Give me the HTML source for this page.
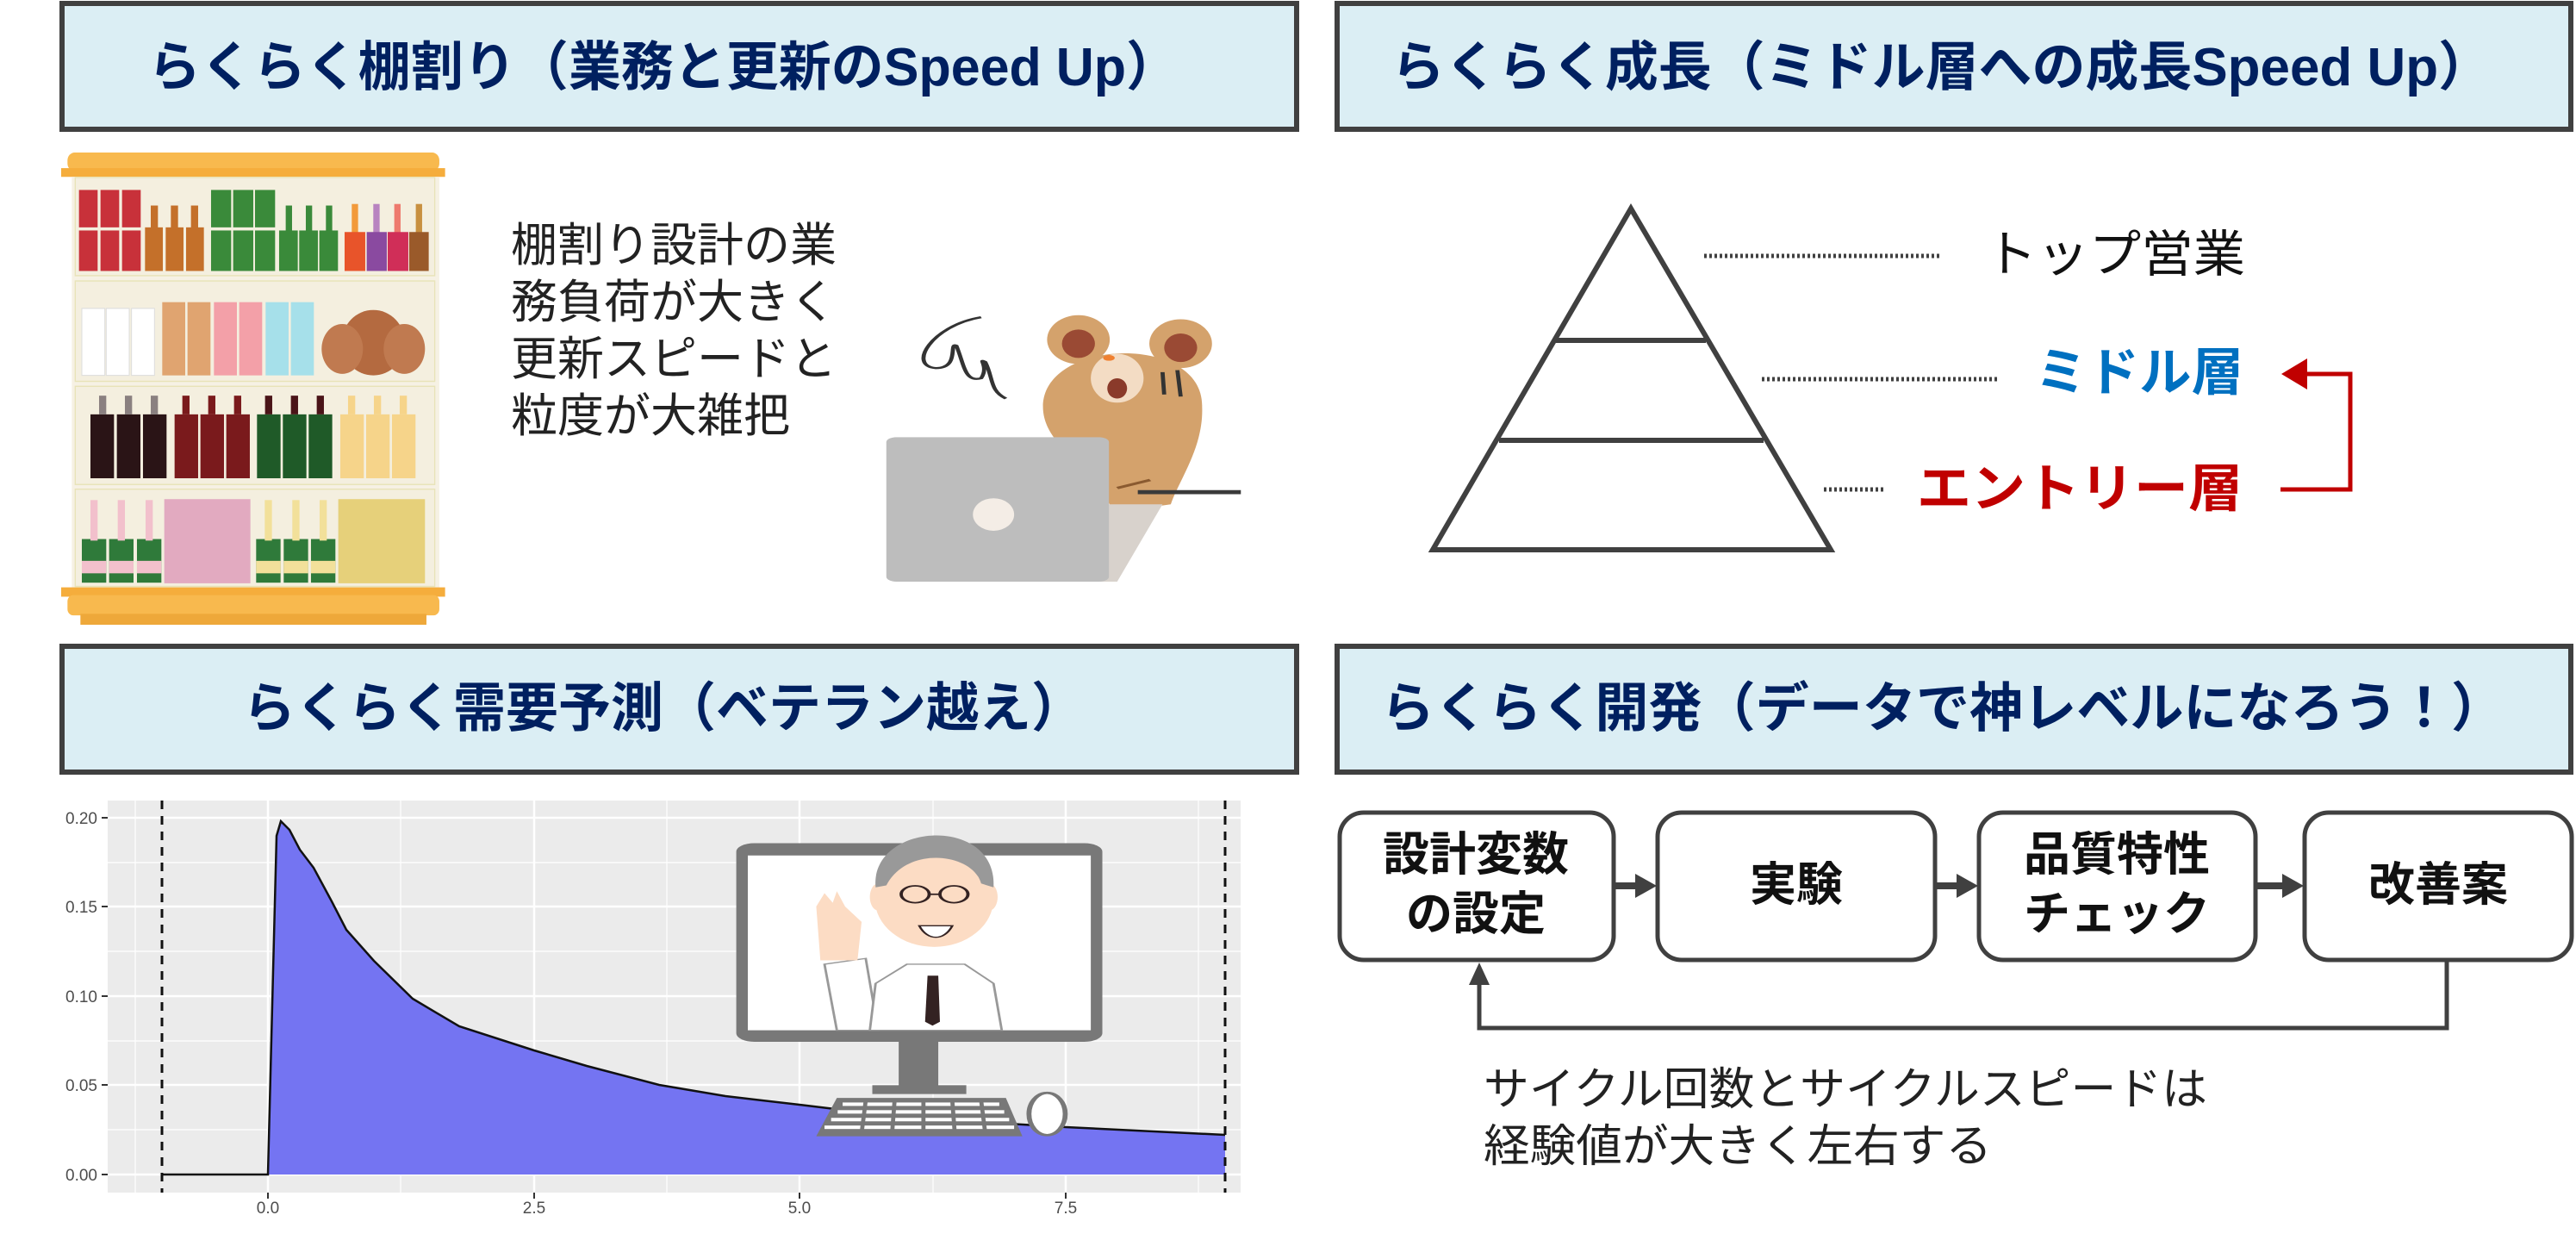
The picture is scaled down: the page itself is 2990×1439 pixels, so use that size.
<!DOCTYPE html>
<html><head><meta charset="utf-8"><style>
html,body{margin:0;padding:0;background:#fff;}
svg{display:block;}
text{font-family:"Liberation Sans","Noto Sans CJK JP",sans-serif;}
</style></head><body>
<svg width="2990" height="1439" viewBox="0 0 2990 1439" xmlns="http://www.w3.org/2000/svg">
<rect width="2990" height="1439" fill="#fff"/>

<g fill="#dbeef4" stroke="#404040" stroke-width="6">
<rect x="72" y="4" width="1433" height="146"/>
<rect x="1552" y="4" width="1432" height="146"/>
<rect x="72" y="750" width="1433" height="146"/>
<rect x="1552" y="750" width="1432" height="146"/>
</g>
<g font-weight="bold" fill="#002060" font-size="62">
<text x="172" y="99" textLength="1196" lengthAdjust="spacingAndGlyphs">らくらく棚割り（業務と更新のSpeed Up）</text>
<text x="1615" y="99" textLength="1277" lengthAdjust="spacingAndGlyphs">らくらく成長（ミドル層への成長Speed Up）</text>
<text x="282" y="843" textLength="976" lengthAdjust="spacingAndGlyphs">らくらく需要予測（ベテラン越え）</text>
<text x="1603" y="843" textLength="1304" lengthAdjust="spacingAndGlyphs">らくらく開発（データで神レベルになろう！）</text>
</g>

<g transform="translate(60,169.8) scale(0.3333,0.3617)">
<rect x="55" y="20" width="1295" height="60" rx="25" fill="#f8b94e"/>
<rect x="33" y="70" width="1337" height="28" fill="#f5ad3c"/>
<rect x="70" y="98" width="1280" height="1320" fill="#f6f1e4"/>
<rect x="82" y="100" width="1252" height="315" fill="#f4efdf" stroke="#e8e3b8" stroke-width="4"/>
<rect x="82" y="432" width="1252" height="322" fill="#f4efdf" stroke="#e8e3b8" stroke-width="4"/>
<rect x="82" y="770" width="1252" height="315" fill="#f4efdf" stroke="#e8e3b8" stroke-width="4"/>
<rect x="82" y="1100" width="1252" height="312" fill="#f4efdf" stroke="#e8e3b8" stroke-width="4"/>
<g fill="#c8313a"><rect x="95" y="140" width="65" height="120"/><rect x="170" y="140" width="65" height="120"/><rect x="245" y="140" width="65" height="120"/>
<rect x="95" y="270" width="65" height="130"/><rect x="170" y="270" width="65" height="130"/><rect x="245" y="270" width="65" height="130"/></g>
<g fill="#c4702a"><rect x="345" y="190" width="25" height="80"/><rect x="415" y="190" width="25" height="80"/><rect x="485" y="190" width="25" height="80"/>
<rect x="325" y="260" width="62" height="140"/><rect x="397" y="260" width="62" height="140"/><rect x="468" y="260" width="62" height="140"/></g>
<g fill="#3a8a3a"><rect x="555" y="140" width="70" height="120"/><rect x="632" y="140" width="70" height="120"/><rect x="708" y="140" width="70" height="120"/>
<rect x="555" y="270" width="70" height="130"/><rect x="632" y="270" width="70" height="130"/><rect x="708" y="270" width="70" height="130"/>
<rect x="815" y="190" width="22" height="90"/><rect x="885" y="190" width="22" height="90"/><rect x="955" y="190" width="22" height="90"/>
<rect x="792" y="270" width="65" height="130"/><rect x="862" y="270" width="65" height="130"/><rect x="932" y="270" width="65" height="130"/></g>
<rect x="1045" y="185" width="22" height="100" fill="#f29a3a"/><rect x="1020" y="275" width="72" height="125" fill="#e8542a"/>
<rect x="1120" y="185" width="22" height="100" fill="#b883c0"/><rect x="1097" y="275" width="70" height="125" fill="#8a4aa0"/>
<rect x="1193" y="185" width="22" height="100" fill="#ee7a6e"/><rect x="1170" y="275" width="72" height="125" fill="#d02e58"/>
<rect x="1268" y="185" width="22" height="100" fill="#c89040"/><rect x="1245" y="275" width="68" height="125" fill="#9a5a2a"/>
<g fill="#fff" stroke="#ddd" stroke-width="3"><rect x="105" y="520" width="80" height="215"/><rect x="190" y="520" width="80" height="215"/><rect x="278" y="520" width="80" height="215"/></g>
<rect x="385" y="500" width="80" height="235" fill="#e0a470"/><rect x="473" y="500" width="80" height="235" fill="#e0a470"/>
<rect x="565" y="500" width="80" height="235" fill="#f3a0a8"/><rect x="653" y="500" width="80" height="235" fill="#f3a0a8"/>
<rect x="745" y="500" width="80" height="235" fill="#a6e0ea"/><rect x="833" y="500" width="80" height="235" fill="#a6e0ea"/>
<ellipse cx="1120" cy="630" rx="110" ry="105" fill="#b46a40"/>
<ellipse cx="1012" cy="650" rx="72" ry="80" fill="#c07a50"/>
<ellipse cx="1228" cy="650" rx="72" ry="80" fill="#c07a50"/>
<g fill="#2a1416"><rect x="135" y="860" width="82" height="205"/><rect x="227" y="860" width="82" height="205"/><rect x="318" y="860" width="82" height="205"/></g>
<g fill="#8a8080"><rect x="165" y="800" width="25" height="60"/><rect x="255" y="800" width="25" height="60"/><rect x="345" y="800" width="25" height="60"/></g>
<g fill="#7a1a1c"><rect x="428" y="860" width="82" height="205"/><rect x="518" y="860" width="82" height="205"/><rect x="608" y="860" width="82" height="205"/>
<rect x="455" y="800" width="25" height="60"/><rect x="545" y="800" width="25" height="60"/><rect x="635" y="800" width="25" height="60"/></g>
<g fill="#1f5a28"><rect x="715" y="860" width="82" height="205"/><rect x="805" y="860" width="82" height="205"/><rect x="895" y="860" width="82" height="205"/></g>
<g fill="#4a1418"><rect x="743" y="800" width="25" height="60"/><rect x="833" y="800" width="25" height="60"/><rect x="923" y="800" width="25" height="60"/></g>
<g fill="#f6d48a"><rect x="1005" y="860" width="82" height="205"/><rect x="1095" y="860" width="82" height="205"/><rect x="1185" y="860" width="82" height="205"/>
<rect x="1032" y="800" width="25" height="60"/><rect x="1122" y="800" width="25" height="60"/><rect x="1212" y="800" width="25" height="60"/></g>
<g fill="#2f7a3a"><rect x="105" y="1260" width="85" height="140"/><rect x="200" y="1260" width="85" height="140"/><rect x="297" y="1260" width="85" height="140"/>
<rect x="712" y="1260" width="85" height="140"/><rect x="808" y="1260" width="85" height="140"/><rect x="903" y="1260" width="85" height="140"/></g>
<g fill="#f2c0cc"><rect x="135" y="1135" width="25" height="130"/><rect x="230" y="1135" width="25" height="130"/><rect x="327" y="1135" width="25" height="130"/>
<rect x="105" y="1330" width="85" height="40"/><rect x="200" y="1330" width="85" height="40"/><rect x="297" y="1330" width="85" height="40"/></g>
<g fill="#f2e09a"><rect x="742" y="1135" width="25" height="130"/><rect x="838" y="1135" width="25" height="130"/><rect x="933" y="1135" width="25" height="130"/>
<rect x="712" y="1330" width="85" height="40"/><rect x="808" y="1330" width="85" height="40"/><rect x="903" y="1330" width="85" height="40"/></g>
<rect x="392" y="1132" width="300" height="270" fill="#e2aac0"/>
<rect x="998" y="1132" width="302" height="270" fill="#e6d07a"/>
<rect x="33" y="1415" width="1337" height="30" fill="#f5ad3c"/>
<rect x="55" y="1440" width="1295" height="65" rx="20" fill="#f8b94e"/>
<rect x="100" y="1500" width="1205" height="35" fill="#eea83a"/>
</g>

<g font-size="54" fill="#222">
<text x="593" y="303" textLength="378" lengthAdjust="spacingAndGlyphs">棚割り設計の業</text>
<text x="593" y="369" textLength="378" lengthAdjust="spacingAndGlyphs">務負荷が大きく</text>
<text x="593" y="435" textLength="378" lengthAdjust="spacingAndGlyphs">更新スピードと</text>
<text x="593" y="501" textLength="324" lengthAdjust="spacingAndGlyphs">粒度が大雑把</text>
</g>

<g transform="scale(0.957,0.472)">
<path d="M1190,780 C1130,800 1100,900 1135,905 C1165,905 1150,840 1160,850 C1170,900 1170,940 1190,930 C1200,900 1185,880 1195,890 C1205,930 1200,960 1220,980" fill="none" stroke="#333" stroke-width="5"/>
<ellipse cx="1308" cy="835" rx="38" ry="60" fill="#d4a26c"/>
<ellipse cx="1308" cy="845" rx="20" ry="35" fill="#9a4a34"/>
<ellipse cx="1432" cy="845" rx="38" ry="60" fill="#d4a26c"/>
<ellipse cx="1432" cy="855" rx="20" ry="35" fill="#9a4a34"/>
<path d="M1265,1000 C1265,830 1460,820 1458,1000 C1460,1100 1430,1180 1420,1240 L1350,1260 C1330,1150 1265,1100 1265,1000Z" fill="#d4a26c"/>
<ellipse cx="1355" cy="930" rx="32" ry="60" fill="#f3dcc4"/>
<ellipse cx="1355" cy="955" rx="12" ry="25" fill="#8a3a2a"/>
<circle cx="1345" cy="880" r="7" fill="#f08030"/>
<path d="M1410,915 L1412,970 M1428,910 L1432,975" stroke="#333" stroke-width="5"/>
<path d="M1380,1210 L1505,1210" stroke="#3a3a3a" stroke-width="10"/>
<polygon points="1345,1240 1410,1240 1355,1430 1320,1430" fill="#d8d2cc"/>
<rect x="1075" y="1075" width="270" height="355" rx="12" fill="#bdbdbd"/>
<ellipse cx="1205" cy="1265" rx="25" ry="40" fill="#f4ede6"/>
<path d="M1355,1200 L1395,1180" stroke="#8a5a30" stroke-width="6"/>
</g>

<g stroke="#404040" stroke-width="6" fill="none">
<polygon points="1893,242 1663,638 2125,638"/>
<line x1="1806" y1="395" x2="1980" y2="395"/>
<line x1="1740" y1="511" x2="2047" y2="511"/>
</g>
<g stroke="#404040" stroke-width="5" stroke-dasharray="3,3">
<line x1="1978" y1="297" x2="2252" y2="297"/>
<line x1="2045" y1="440" x2="2318" y2="440"/>
<line x1="2117" y1="568" x2="2187" y2="568"/>
</g>
<text x="2304" y="315" font-size="58" fill="#111" textLength="302" lengthAdjust="spacingAndGlyphs">トップ営業</text>
<text x="2362" y="453" font-size="60" font-weight="bold" fill="#0070c0" textLength="242" lengthAdjust="spacingAndGlyphs">ミドル層</text>
<text x="2225" y="588" font-size="60" font-weight="bold" fill="#c00000" textLength="378" lengthAdjust="spacingAndGlyphs">エントリー層</text>
<path d="M2647,568 L2728,568 L2728,434 L2675,434" fill="none" stroke="#c00000" stroke-width="5"/>
<polygon points="2648,434 2678,416 2678,452" fill="#c00000"/>

<rect x="125" y="929" width="1315" height="455" fill="#ebebeb"/>
<g stroke="#fff" stroke-width="1.2">
<line x1="125" x2="1440" y1="1311" y2="1311"/><line x1="125" x2="1440" y1="1208" y2="1208"/><line x1="125" x2="1440" y1="1104" y2="1104"/><line x1="125" x2="1440" y1="1001" y2="1001"/>
<line y1="929" y2="1384" x1="157" x2="157"/><line y1="929" y2="1384" x1="465" x2="465"/><line y1="929" y2="1384" x1="774" x2="774"/><line y1="929" y2="1384" x1="1083" x2="1083"/><line y1="929" y2="1384" x1="1391" x2="1391"/>
</g>
<g stroke="#fff" stroke-width="2.5">
<line x1="125" x2="1440" y1="1363" y2="1363"/><line x1="125" x2="1440" y1="1259" y2="1259"/><line x1="125" x2="1440" y1="1156" y2="1156"/><line x1="125" x2="1440" y1="1052" y2="1052"/><line x1="125" x2="1440" y1="949" y2="949"/>
<line y1="929" y2="1384" x1="311" x2="311"/><line y1="929" y2="1384" x1="620" x2="620"/><line y1="929" y2="1384" x1="928" x2="928"/><line y1="929" y2="1384" x1="1237" x2="1237"/>
</g>
<path d="M311,1363 L321,970 L326,953 L336,963 L348,986 L364,1007 L385,1046 L402,1079 L434,1115 L479,1159 L533,1191 L620,1219 L681,1237 L765,1259 L842,1272 L928,1282 L1052,1297 L1237,1308 L1422,1317 L1422,1363 Z" fill="#7474f2"/>
<path d="M188,1363 L311,1363 L321,970 L326,953 L336,963 L348,986 L364,1007 L385,1046 L402,1079 L434,1115 L479,1159 L533,1191 L620,1219 L681,1237 L765,1259 L842,1272 L928,1282 L1052,1297 L1237,1308 L1422,1317" fill="none" stroke="#111" stroke-width="2.5"/>
<g stroke="#111" stroke-width="3" stroke-dasharray="10,8">
<line x1="188" y1="929" x2="188" y2="1384"/><line x1="1422" y1="929" x2="1422" y2="1384"/>
</g>
<g stroke="#333" stroke-width="2">
<line x1="118" x2="125" y1="1363" y2="1363"/><line x1="118" x2="125" y1="1259" y2="1259"/><line x1="118" x2="125" y1="1156" y2="1156"/><line x1="118" x2="125" y1="1052" y2="1052"/><line x1="118" x2="125" y1="949" y2="949"/>
<line y1="1384" y2="1391" x1="311" x2="311"/><line y1="1384" y2="1391" x1="620" x2="620"/><line y1="1384" y2="1391" x1="928" x2="928"/><line y1="1384" y2="1391" x1="1237" x2="1237"/>
</g>
<g font-size="19" fill="#4d4d4d" text-anchor="end">
<text x="113" y="1370">0.00</text><text x="113" y="1266">0.05</text><text x="113" y="1163">0.10</text><text x="113" y="1059">0.15</text><text x="113" y="956">0.20</text>
</g>
<g font-size="19" fill="#4d4d4d" text-anchor="middle">
<text x="311" y="1408">0.0</text><text x="620" y="1408">2.5</text><text x="928" y="1408">5.0</text><text x="1237" y="1408">7.5</text>
</g>

<g transform="translate(0,740) scale(0.957,0.4458)">
<rect x="893" y="535" width="444" height="517" rx="22" fill="#787878"/>
<rect x="907" y="567" width="416" height="455" fill="#fff"/>
<rect x="1090" y="1052" width="48" height="118" fill="#787878"/>
<rect x="1058" y="1165" width="114" height="23" fill="#787878"/>
<polygon points="1015,1198 1220,1198 1240,1298 990,1298" fill="#787878"/>
<g fill="#fff">
<rect x="1022" y="1210" width="190" height="9"/><rect x="1016" y="1230" width="202" height="9"/><rect x="1008" y="1250" width="216" height="9"/><rect x="1000" y="1270" width="230" height="9"/>
</g>
<g stroke="#787878" stroke-width="5">
<line x1="1050" y1="1205" x2="1045" y2="1290"/><line x1="1085" y1="1205" x2="1082" y2="1290"/><line x1="1120" y1="1205" x2="1120" y2="1290"/><line x1="1155" y1="1205" x2="1158" y2="1290"/><line x1="1190" y1="1205" x2="1195" y2="1290"/>
</g>
<ellipse cx="1270" cy="1240" rx="22" ry="55" fill="#fff" stroke="#787878" stroke-width="6"/>
<path d="M1000,850 L1050,835 L1065,1022 L1015,1022 Z" fill="#fff" stroke="#999" stroke-width="3"/>
<path d="M1055,1022 L1062,900 L1100,850 L1170,850 L1205,900 L1215,1022 Z" fill="#fff" stroke="#999" stroke-width="3"/>
<polygon points="1125,880 1138,880 1140,1000 1131,1010 1122,1000" fill="#332222"/>
<path d="M995,840 L990,700 L1000,665 L1010,690 L1015,660 L1025,700 L1045,740 L1040,840 Z" fill="#fcdcc4"/>
<ellipse cx="1133" cy="680" rx="72" ry="125" fill="#fcdcc4"/>
<ellipse cx="1065" cy="675" rx="10" ry="35" fill="#fcdcc4"/>
<ellipse cx="1200" cy="675" rx="10" ry="35" fill="#fcdcc4"/>
<path d="M1062,650 C1055,480 1210,460 1205,650 L1190,640 C1180,560 1100,540 1075,645 Z" fill="#999"/>
<g fill="none" stroke="#332222" stroke-width="4">
<ellipse cx="1110" cy="668" rx="17" ry="22"/><ellipse cx="1157" cy="668" rx="17" ry="22"/>
<line x1="1127" y1="668" x2="1140" y2="668"/>
</g>
<path d="M1115,750 C1125,790 1145,790 1155,750 Z" fill="#fff" stroke="#332222" stroke-width="3"/>
</g>

<g fill="#fff" stroke="#404040" stroke-width="5">
<rect x="1555" y="943" width="318" height="171" rx="28"/>
<rect x="1924" y="943" width="322" height="171" rx="28"/>
<rect x="2297" y="943" width="321" height="171" rx="28"/>
<rect x="2675" y="943" width="310" height="171" rx="28"/>
</g>
<g font-size="54" font-weight="bold" fill="#111" text-anchor="middle">
<text x="1713" y="1010">設計変数</text><text x="1713" y="1079">の設定</text>
<text x="2085" y="1045">実験</text>
<text x="2457" y="1010">品質特性</text><text x="2457" y="1079">チェック</text>
<text x="2830" y="1045">改善案</text>
</g>
<g fill="#404040">
<rect x="1874" y="1024" width="26" height="8"/><polygon points="1898,1014 1923,1028 1898,1042"/>
<rect x="2247" y="1024" width="26" height="8"/><polygon points="2271,1014 2296,1028 2271,1042"/>
<rect x="2619" y="1024" width="32" height="8"/><polygon points="2649,1014 2674,1028 2649,1042"/>
</g>
<path d="M2840,1116 L2840,1193 L1717,1193 L1717,1140" fill="none" stroke="#404040" stroke-width="5"/>
<polygon points="1717,1117 1705,1143 1729,1143" fill="#404040"/>
<g font-size="52" fill="#222">
<text x="1722" y="1282" textLength="840" lengthAdjust="spacingAndGlyphs">サイクル回数とサイクルスピードは</text>
<text x="1722" y="1348" textLength="590" lengthAdjust="spacingAndGlyphs">経験値が大きく左右する</text>
</g>
</svg>
</body></html>
